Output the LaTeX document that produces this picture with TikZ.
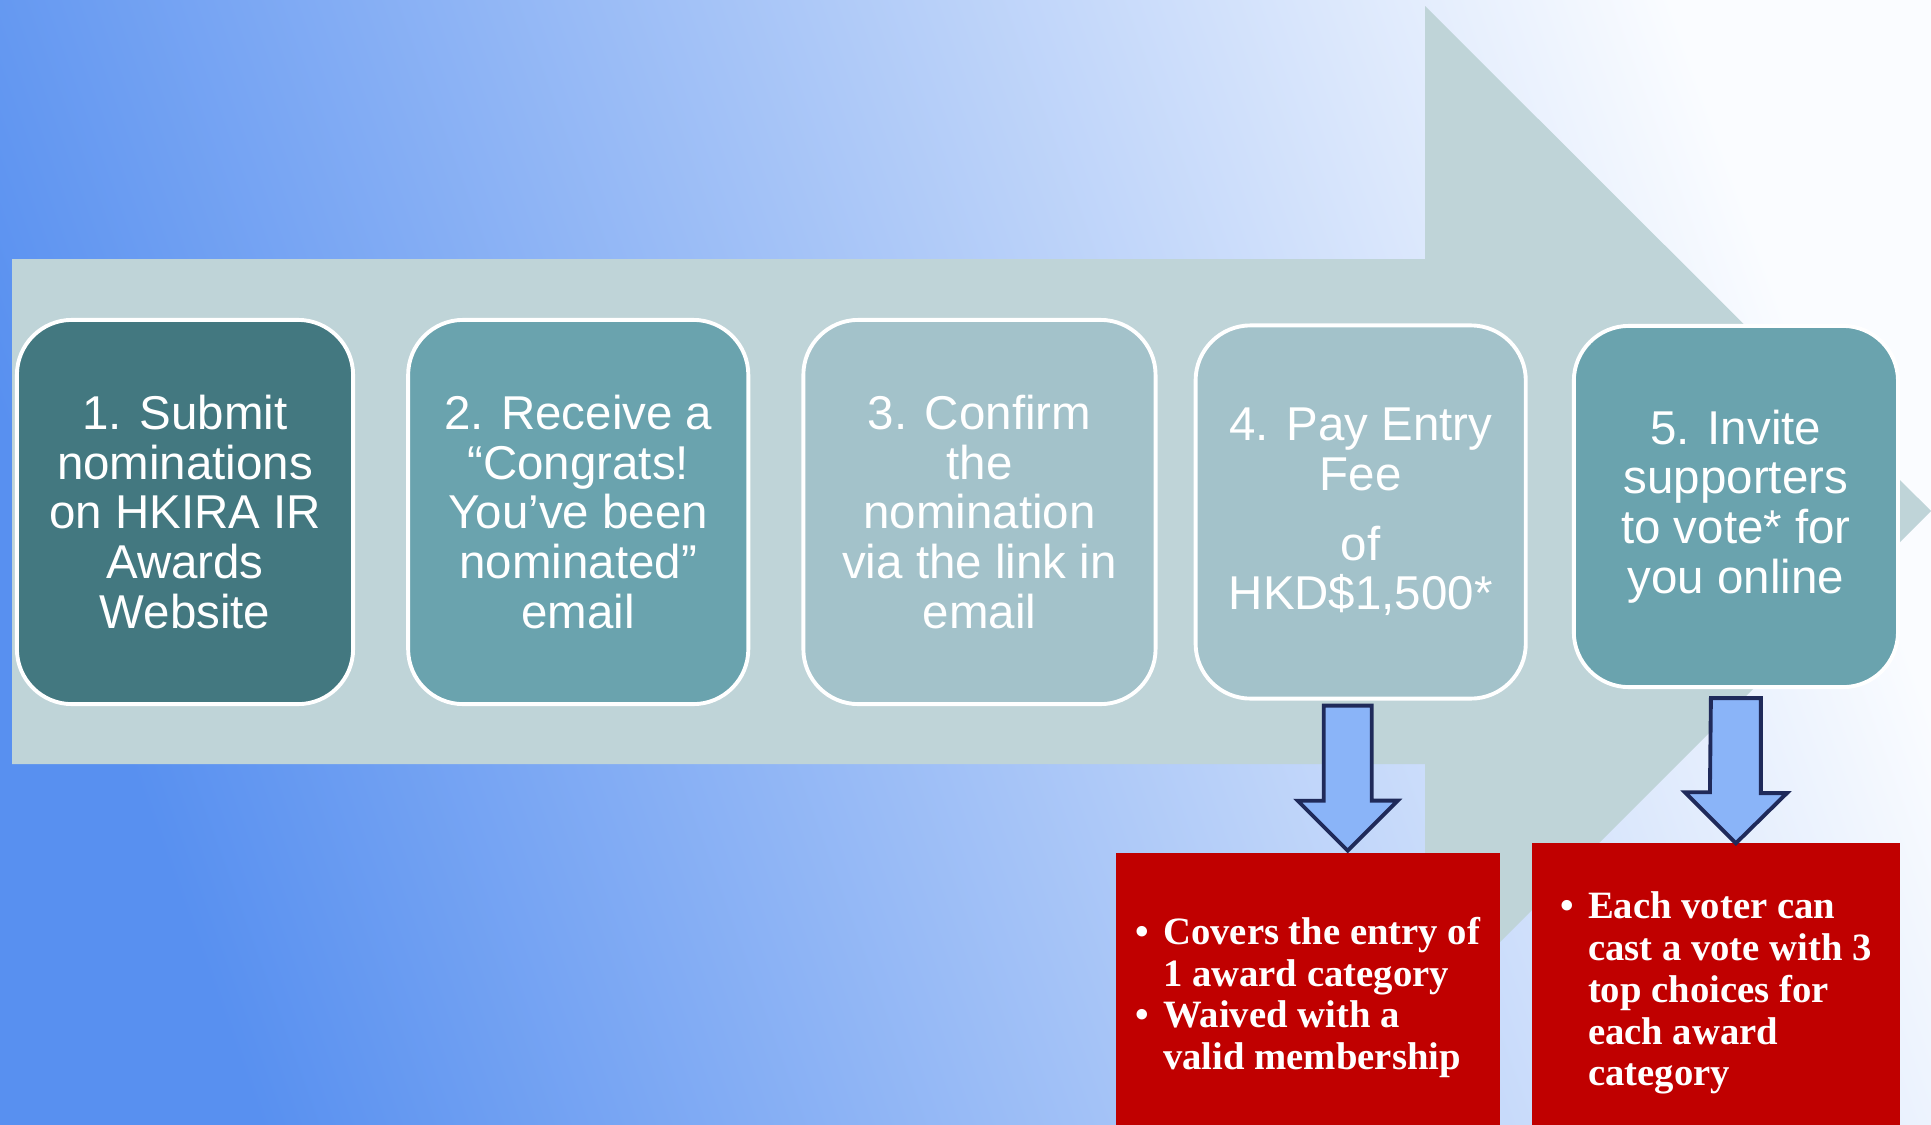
\documentclass[tikz,border=0pt]{standalone}
\usepackage{fontspec}
\setmainfont{Liberation Sans}
\newfontfamily\notefont{Liberation Serif}
\usetikzlibrary{positioning,calc}

\definecolor{bgdark}{RGB}{88,144,240}
\definecolor{bglight}{RGB}{250,252,255}
\definecolor{bigarrow}{RGB}{191,212,216}
\definecolor{stepdark}{RGB}{67,120,128}
\definecolor{stepmid}{RGB}{106,163,174}
\definecolor{steplight}{RGB}{163,194,202}
\definecolor{notered}{RGB}{192,0,0}
\definecolor{downfill}{RGB}{138,180,248}
\definecolor{downline}{RGB}{31,42,90}

\newcommand{\bul}{\makebox[0.28cm][l]{\textbullet}}
\newcommand{\ind}{\makebox[0.28cm][l]{}}

\begin{document}
\begin{tikzpicture}[
    x=0.01cm, y=0.01cm,
    step_box/.style={rectangle, rounded corners=0.55cm, draw=white, line width=1.1pt, outer sep=0pt, text=white, align=center, font=\fontsize{13.5pt}{14.1pt}\selectfont},
    note_box/.style={rectangle, fill=notered, text=white, align=left, inner xsep=0.16cm, inner ysep=0pt, font=\notefont\bfseries\fontsize{11pt}{11.9pt}\selectfont},
    block_arrow/.style={draw=downline, fill=downfill, line width=1.1pt, line join=miter}
]

% Background and big arrow
\path[use as bounding box] (0,0) rectangle (1931,-1124);
\shade[left color=bgdark, right color=bglight, shading angle=110] (0,0) rectangle (1931,-1124);
\fill[bigarrow] (12,-259) -- (1425,-259) -- (1425,-6) -- (1931,-511) -- (1425,-1017) -- (1425,-764) -- (12,-764) -- cycle;

% Steps
\node[step_box, fill=stepdark, minimum width=3.36cm, minimum height=3.84cm] (box1) at (185,-512) {1. Submit\\nominations\\on HKIRA IR\\Awards\\Website};
\node[step_box, fill=stepmid, minimum width=3.40cm, minimum height=3.84cm, right=0.55cm of box1] (box2) {2. Receive a\\“Congrats!\\You’ve been\\nominated”\\email};
\node[step_box, fill=steplight, minimum width=3.52cm, minimum height=3.84cm, right=0.55cm of box2] (box3) {3. Confirm\\the\\nomination\\via the link in\\email};
\node[step_box, fill=steplight, minimum width=3.30cm, minimum height=3.73cm, right=0.40cm of box3] (box4) {4. Pay Entry\\Fee\\[0.2cm]of\\HKD\$1,500*};
\node[step_box, fill=stepmid, minimum width=3.24cm, minimum height=3.61cm, right=0.48cm of box4, yshift=0.055cm] (box5) {5. Invite\\supporters\\to vote* for\\you online};

% Notes (run past the bottom edge)
\node[note_box, minimum width=3.84cm, minimum height=2.88cm, below=1.54cm of box4, xshift=-0.53cm] (feeNote) {\bul Covers the entry of\\\ind 1 award category\\\bul Waived with a\\\ind valid membership};
\node[note_box, minimum width=3.68cm, minimum height=3.00cm, below=1.55cm of box5, xshift=-0.2cm] (voteNote) {\bul Each voter can\\\ind cast a vote with 3\\\ind top choices for\\\ind each award\\\ind category};

% Down arrows
\coordinate (feeTop) at ($(box4.south)+(-13,-7)$);
\coordinate (feeTip) at ($(feeTop |- feeNote.north)+(0,2)$);
\draw[block_arrow] ($(feeTop)+(-24,0)$) -- ++(48,0) -- ++(0,-95) -- ++(26,0) -- (feeTip) -- ++(-50,50) -- ++(26,0) -- cycle;

\coordinate (voteTop) at ($(box5.south)+(0,-11)$);
\coordinate (voteTip) at ($(voteTop |- voteNote.north)+(0,-1)$);
\draw[block_arrow] ($(voteTop)+(-25,0)$) -- ++(50,0) -- ++(0,-95) -- ++(26,0) -- (voteTip) -- ++(-51,51) -- ++(25,0) -- cycle;

\end{tikzpicture}
\end{document}
